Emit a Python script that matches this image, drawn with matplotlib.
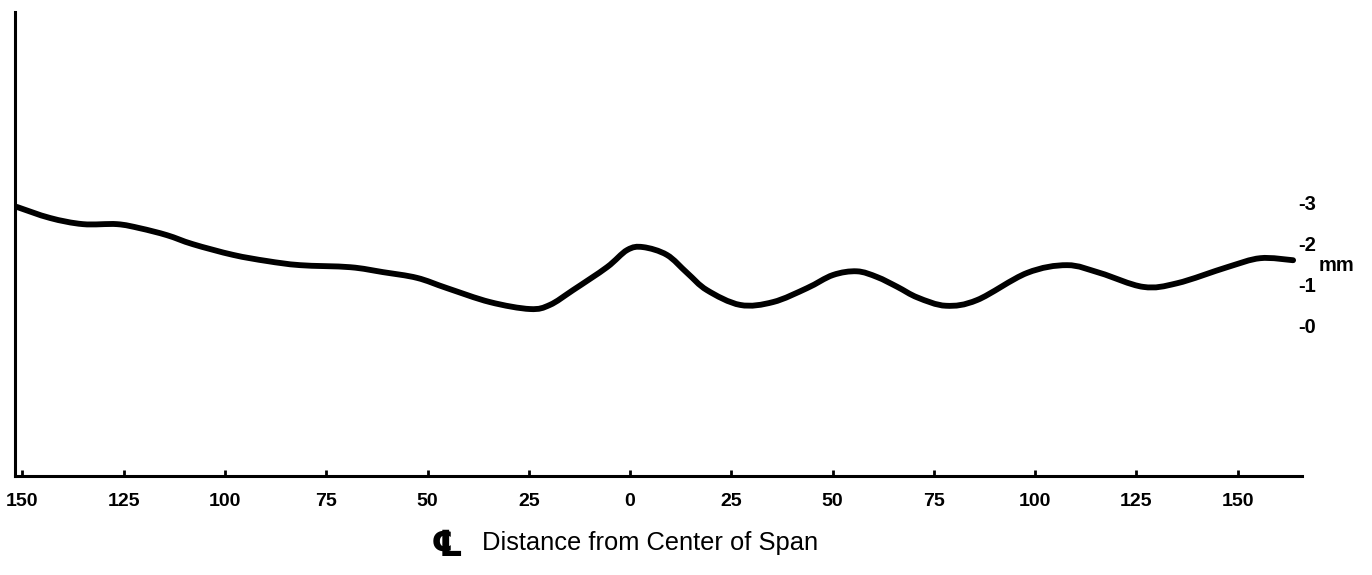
import matplotlib.pyplot as plt
from matplotlib.path import Path
from matplotlib.patches import PathPatch

# distance from center of span (left of center negative) and deflection in mm
distance = [-151.4, -143.2, -135.1, -126.7, -121.0, -114.3, -107.9, -98.0, -89.6,
            -81.5, -69.1, -61.0, -52.6, -45.2, -34.6, -24.7, -19.8, -14.1, -5.7,
            -0.7, 3.2, 9.1, 14.1, 19.0, 27.2, 35.3, 43.7, 50.1, 56.0, 61.0, 66.0, 71.0,
            78.0, 85.7, 98.0, 107.9, 116.0, 126.7, 135.1, 147.4, 155.6, 163.7]
deflection = [2.93, 2.66, 2.51, 2.51, 2.41, 2.24, 2.02, 1.76, 1.61,
              1.51, 1.46, 1.34, 1.20, 0.95, 0.61, 0.44, 0.54, 0.90, 1.46,
              1.88, 1.95, 1.76, 1.32, 0.90, 0.54, 0.61, 0.95, 1.27, 1.36, 1.22, 0.98, 0.72,
              0.52, 0.66, 1.32, 1.51, 1.32, 0.98, 1.07, 1.46, 1.68, 1.63]

tick_pos = [-150, -125, -100, -75, -50, -25, 0, 25, 50, 75, 100, 125, 150]
tick_labels = ['150', '125', '100', '75', '50', '25', '0', '25', '50', '75', '100', '125', '150']
mm_values = [3, 2, 1, 0]


def smooth_path(xs, ys):
    # Catmull-Rom through the points, written as cubic Bezier segments
    pts = list(zip(xs, ys))
    verts = [pts[0]]
    codes = [Path.MOVETO]
    n = len(pts)
    for i in range(n - 1):
        p0 = pts[i - 1] if i > 0 else pts[i]
        p1 = pts[i]
        p2 = pts[i + 1]
        p3 = pts[i + 2] if i + 2 < n else pts[i + 1]
        c1 = (p1[0] + (p2[0] - p0[0]) / 6, p1[1] + (p2[1] - p0[1]) / 6)
        c2 = (p2[0] - (p3[0] - p1[0]) / 6, p2[1] - (p3[1] - p1[1]) / 6)
        verts += [c1, c2, p2]
        codes += [Path.CURVE4] * 3
    return Path(verts, codes)


fig = plt.figure(figsize=(13.72, 5.75), dpi=100)
ax = fig.add_axes([0.01093, 0.1722, 0.949 - 0.01093, 0.979 - 0.1722])

ax.add_patch(PathPatch(smooth_path(distance, deflection), facecolor='none',
                       edgecolor='black', lw=4.2, capstyle='round'))

ax.set_xlim(-151.85, 165.9)
ax.set_ylim(-3.63, 7.68)

for s in ['top', 'right']:
    ax.spines[s].set_visible(False)
ax.spines['left'].set_linewidth(2.2)
ax.spines['bottom'].set_linewidth(2.2)

ax.set_xticks(tick_pos)
ax.set_xticklabels(tick_labels, fontfamily='Liberation Sans', fontweight='bold', fontsize=14)
ax.tick_params(axis='x', direction='in', length=4, width=2, pad=12)
ax.set_yticks([])

# mm scale on the right
for v in mm_values:
    ax.text(165.0, v, '-' + str(v), ha='left', va='center', fontsize=14.5,
            fontfamily='Liberation Sans', fontweight='bold', clip_on=False)
ax.text(169.9, 1.51, 'mm', ha='left', va='center', fontsize=14.5,
        fontfamily='Liberation Sans', fontweight='bold', clip_on=False)

# centerline symbol and axis title
fig.text(447 / 1372, 1 - 546 / 575, '\u2104', ha='center', va='center', fontsize=26,
         fontweight='bold', fontstyle='italic', family=['DejaVu Sans', 'Noto Sans'])
fig.text(482 / 1372, 1 - 543 / 575, 'Distance from Center of Span', ha='left', va='center',
         fontsize=18.4, fontfamily='Liberation Sans')

fig.savefig('out.png', dpi=100)
